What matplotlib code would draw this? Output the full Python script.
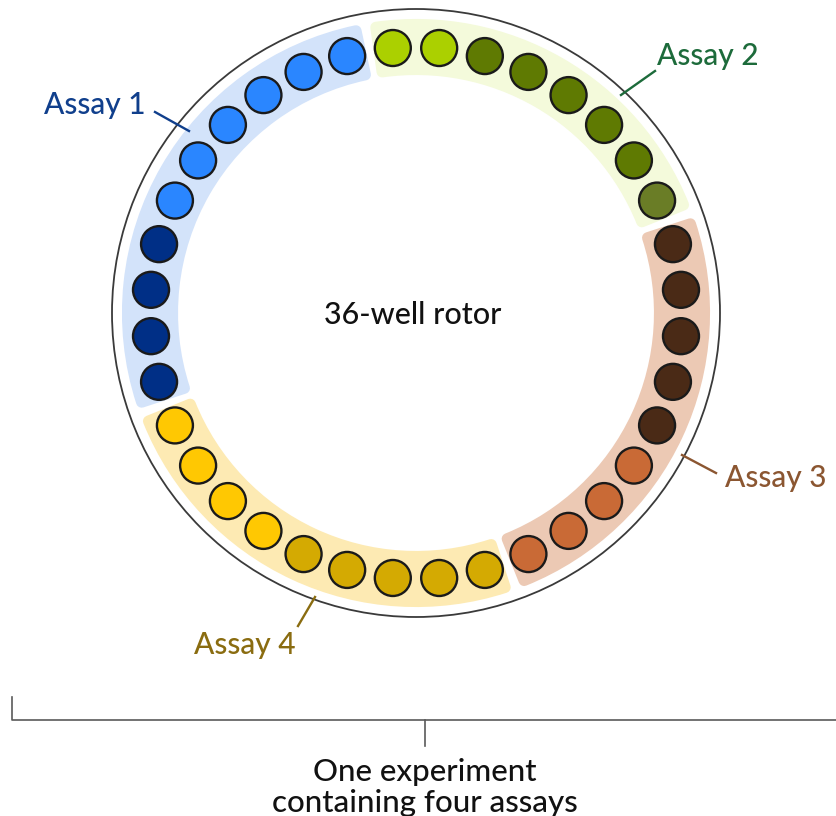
import numpy as np
import matplotlib
matplotlib.use("Agg")
import matplotlib.pyplot as plt
from matplotlib.patches import Circle, Wedge

plt.rcParams["font.family"] = ["Lato", "DejaVu Sans"]

# ======================================
# ROTOR DATA (clockwise from the top)
# ======================================

assay_names = ["Assay 1", "Assay 2", "Assay 3", "Assay 4"]
# band start / end angles in degrees, clockwise from 12 o'clock
band_start = [250, 350, 70, 160]
band_end = [350, 430, 160, 250]
band_colors = ["#d3e3fa", "#f4fadb", "#ecc9b4", "#fdeab3"]
text_colors = ["#103f8c", "#1d6b3b", "#8b5631", "#8a6c10"]

# well colours, well i sits at angle -5 + 10*i
well_colors = (
    ["#abd000"] * 2 + ["#5f7a02"] * 5 + ["#6a7d26"]          # assay 2
    + ["#4a2a16"] * 5 + ["#c96a36"] * 4                     # assay 3
    + ["#d4aa02"] * 5 + ["#ffc802"] * 4                     # assay 4
    + ["#002f86"] * 4 + ["#2a86ff"] * 6                     # assay 1
)

label_pos = [(95, 105), (708, 56), (776, 478), (245, 645)]
leader_lines = [((155, 112), (189, 131)), ((655, 71), (621, 95)),
                ((682, 455), (716, 473)), ((315, 597), (298, 626))]

CX, CY = 416, 313
R_OUTER = 304
R_WELLS = 266
WELL_R = 18

# ======================================
# FIGURE (data units = pixels)
# ======================================

fig = plt.figure(figsize=(8.36, 8.16), dpi=100)
ax = fig.add_axes([0, 0, 1, 1])
ax.set_xlim(0, 836)
ax.set_ylim(816, 0)
ax.set_aspect("equal")
ax.axis("off")

# rotor outline
ax.add_patch(Circle((CX, CY), R_OUTER, fill=False, ec="#3a3a3a", lw=1.3))

# coloured bands behind each assay
for i in range(4):
    t1 = band_start[i] + 2.0
    t2 = band_end[i] - 2.0
    ax.add_patch(Wedge((CX, CY), 288.5, t1 - 90, t2 - 90, width=45,
                       fc=band_colors[i], ec=band_colors[i], lw=8,
                       joinstyle="round"))

# wells
for i, col in enumerate(well_colors):
    th = np.deg2rad(-5 + 10 * i)
    x = CX + R_WELLS * np.sin(th)
    y = CY - R_WELLS * np.cos(th)
    ax.add_patch(Circle((x, y), WELL_R, fc=col, ec="#1a1a1a", lw=1.7))

ax.text(CX - 3, CY + 2, "36-well rotor", ha="center", va="center",
        fontsize=22, fontweight="medium", color="#111111")

# assay labels with leader lines
for i in range(4):
    (x1, y1), (x2, y2) = leader_lines[i]
    ax.plot([x1, x2], [y1, y2], color=text_colors[i], lw=1.7)
    ax.text(label_pos[i][0], label_pos[i][1], assay_names[i], ha="center",
            va="center", fontsize=21.5, fontweight="medium",
            color=text_colors[i])

# bottom bracket
ax.plot([12, 12, 836], [697, 720, 720], color="#5a5a5a", lw=1.2)
ax.plot([425, 425], [720, 746], color="#5a5a5a", lw=1.2)
ax.text(425, 772, "One experiment", ha="center", va="center",
        fontsize=22.5, fontweight="medium", color="#111111")
ax.text(425, 803, "containing four assays", ha="center", va="center",
        fontsize=22.5, fontweight="medium", color="#111111")

fig.savefig("out.png", dpi=100)
